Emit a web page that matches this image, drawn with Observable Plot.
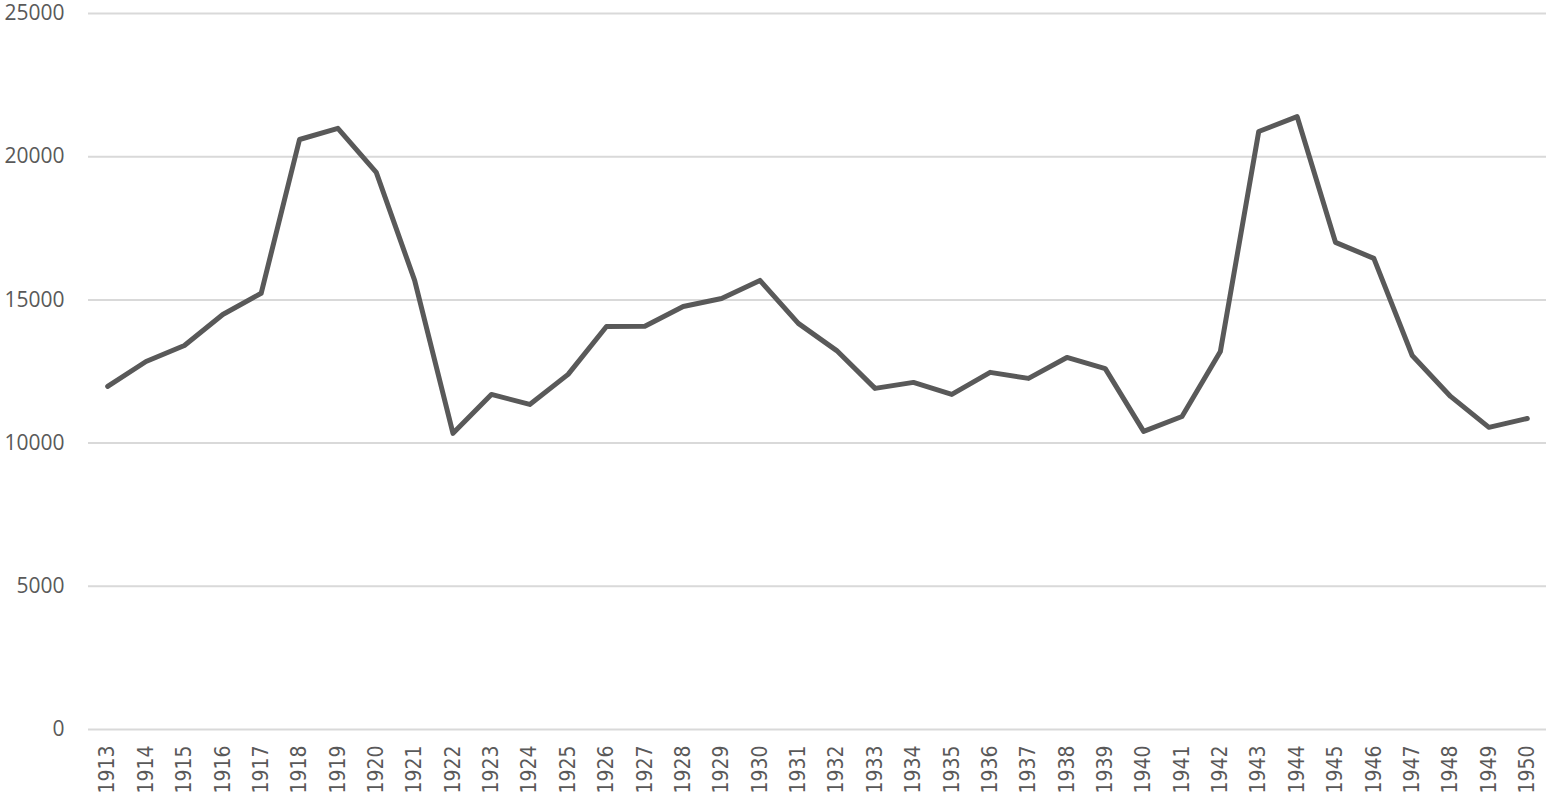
<!DOCTYPE html>
<html><head><meta charset="utf-8">
<script src="https://cdn.jsdelivr.net/npm/d3@7"></script>
<script src="https://cdn.jsdelivr.net/npm/@observablehq/plot@0.6"></script>
<style>
body{margin:0;background:#fff;}
#chart svg{display:block;overflow:visible;}
</style></head>
<body><div id="chart"></div>
<script>
const years = ["1913","1914","1915","1916","1917","1918","1919","1920","1921","1922","1923","1924","1925","1926","1927","1928","1929","1930","1931","1932","1933","1934","1935","1936","1937","1938","1939","1940","1941","1942","1943","1944","1945","1946","1947","1948","1949","1950"];
const values = [11980,12850,13410,14490,15230,20600,20990,19450,15680,10340,11700,11350,12400,14070,14080,14770,15050,15680,14180,13230,11910,12120,11700,12470,12260,12990,12600,10410,10930,13200,20880,21400,17010,16450,13060,11630,10550,10860];
const yTicks = [0,5000,10000,15000,20000,25000];

const data = years.map((y,i)=>({year:y, value:values[i]}));

const chart = Plot.plot({
  width:1550, height:798,
  marginLeft:88, marginRight:4, marginTop:13, marginBottom:69,
  style:{background:"#fff", color:"#595959", overflow:"visible"},
  x:{type:"point", domain:years, padding:0.5, round:false, label:null},
  y:{domain:[0,25000], label:null},
  marks:[
    Plot.ruleY(yTicks,{stroke:"#d9d9d9", strokeWidth:2}),
    Plot.axisY({ticks:yTicks, tickSize:0, tickPadding:24, fontSize:21, fontFamily:"Open Sans", fill:"#595959", label:null, tickFormat:d=>String(d)}),
    Plot.axisX({tickSize:0, tickPadding:16, tickRotate:-90, fontSize:21, fontFamily:"DejaVu Sans Condensed, Liberation Sans Narrow, Roboto", fill:"#595959", label:null}),
    Plot.line(data,{x:"year", y:"value", stroke:"#595959", strokeWidth:5, strokeLinejoin:"round", strokeLinecap:"round"})
  ]
});
document.getElementById("chart").appendChild(chart);
</script></body></html>
